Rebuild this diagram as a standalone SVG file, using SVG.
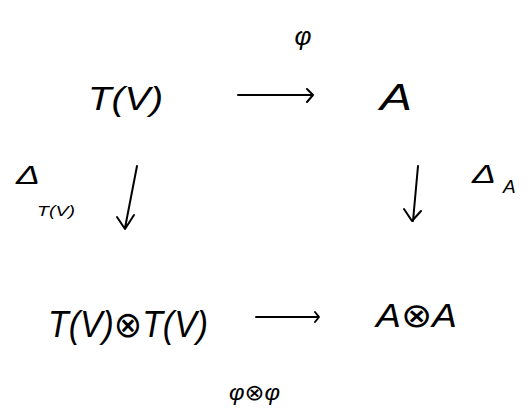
<svg xmlns="http://www.w3.org/2000/svg" width="531" height="412" viewBox="0 0 531 412">
<style>
.t{font-family:"Liberation Sans","DejaVu Sans",sans-serif;font-style:italic;fill:#000}
.c{fill:none;stroke:#000;stroke-width:2;stroke-linecap:round;stroke-linejoin:round}
</style>
<rect width="531" height="412" fill="#fff"/>
<g id="node-TV">
<text class="t" x="88" y="110" font-size="34" textLength="75" lengthAdjust="spacingAndGlyphs">T(V)</text>
</g>
<g id="node-A">
<text class="t" x="380" y="110" font-size="36" textLength="32" lengthAdjust="spacingAndGlyphs">A</text>
</g>
<g id="node-TVTV">
<text class="t" x="48" y="337" font-size="36" textLength="160" lengthAdjust="spacingAndGlyphs">T(V)⊗T(V)</text>
</g>
<g id="node-AA">
<text class="t" x="376" y="327" font-size="34" textLength="81" lengthAdjust="spacingAndGlyphs">A⊗A</text>
</g>
<g id="connectors">
<path class="c" d="M238 95 L313 95 M307 89 L313 95 L307 102"/>
<path class="c" d="M137 166 L125 228 M117 217 L125 229 L134 215"/>
<path class="c" d="M418 166 L413 221 M404 209 L412 221 L421 211"/>
<path class="c" d="M256 317 L318 317 M315 312 L319 317 L315 322"/>
</g>
<g id="labels">
<text class="t" x="303" y="45" font-size="26" text-anchor="middle">φ</text>
<text class="t" x="16" y="184" font-size="26" textLength="24" lengthAdjust="spacingAndGlyphs">Δ</text>
<text class="t" x="37" y="216" font-size="14" textLength="38" lengthAdjust="spacingAndGlyphs">T(V)</text>
<text class="t" x="472" y="183" font-size="26" textLength="24" lengthAdjust="spacingAndGlyphs">Δ</text>
<text class="t" x="503" y="193" font-size="19">A</text>
<text class="t" x="229" y="400" font-size="22" textLength="51" lengthAdjust="spacingAndGlyphs">φ⊗φ</text>
</g>
</svg>
